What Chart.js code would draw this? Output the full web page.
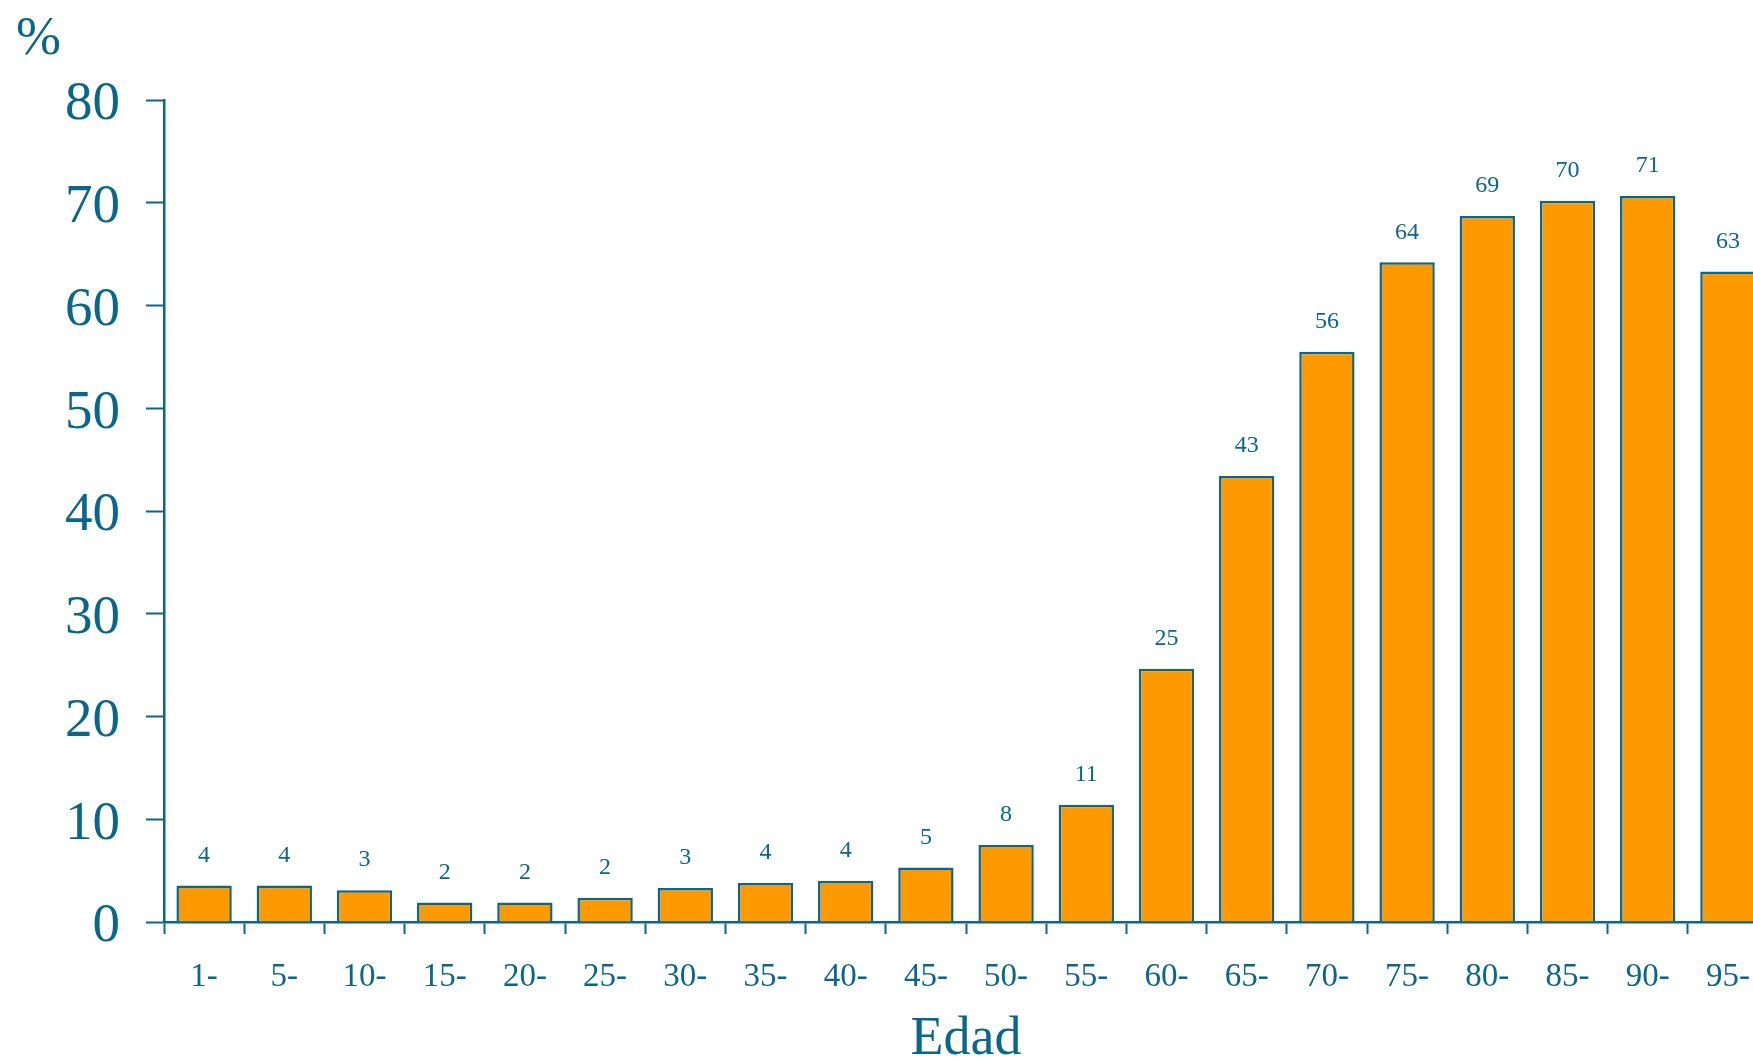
<!DOCTYPE html>
<html>
<head>
<meta charset="utf-8">
<script src="https://cdn.jsdelivr.net/npm/chart.js@4.4.1/dist/chart.umd.min.js"></script>
<style>
  html, body { margin: 0; padding: 0; overflow: hidden; background: #ffffff; }
  #wrap { position: relative; width: 1800px; height: 1060px; }
</style>
</head>
<body>
<div id="wrap"><canvas id="edadChart"></canvas></div>
<script>
// Grupos de edad (eje x)
const ageGroups = ['1-', '5-', '10-', '15-', '20-', '25-', '30-', '35-', '40-', '45-',
                   '50-', '55-', '60-', '65-', '70-', '75-', '80-', '85-', '90-', '95-'];

// Porcentaje por grupo de edad
const percentValues = [3.55, 3.55, 3.1, 1.9, 1.9, 2.35, 3.3, 3.8, 4.0, 5.3,
                       7.5, 11.4, 24.65, 43.4, 55.5, 64.2, 68.7, 70.2, 70.65, 63.3];

// Etiquetas encima de cada barra
const valueLabels = ['4', '4', '3', '2', '2', '2', '3', '4', '4', '5',
                     '8', '11', '25', '43', '56', '64', '69', '70', '71', '63'];

// Eje y
const yMin = 0;
const yMax = 80;
const yStep = 10;

const teal = '#0a6789';
const orange = '#ff9900';
const serif = '"Liberation Serif", "Times New Roman", serif';

// Plugin: valores encima de las barras y la unidad "%"
const barLabels = {
    id: 'barLabels',
    afterDatasetsDraw(chart) {
        const ctx = chart.ctx;
        const meta = chart.getDatasetMeta(0);
        ctx.save();
        ctx.fillStyle = teal;
        ctx.font = '24px ' + serif;
        ctx.textAlign = 'center';
        ctx.textBaseline = 'middle';
        meta.data.forEach((bar, i) => {
            ctx.fillText(valueLabels[i], bar.x, bar.y - 30);
        });

        // unidad del eje y
        ctx.font = '54px ' + serif;
        ctx.textAlign = 'left';
        ctx.textBaseline = 'alphabetic';
        ctx.fillText('%', 16, 54);
        ctx.restore();
    }
};

const chart = new Chart(document.getElementById('edadChart'), {
    type: 'bar',
    data: {
        labels: ageGroups,
        datasets: [{
            data: percentValues,
            backgroundColor: orange,
            borderColor: teal,
            borderWidth: 2.5,
            categoryPercentage: 1.0,
            barPercentage: 0.69
        }]
    },
    options: {
        responsive: true,
        maintainAspectRatio: false,
        animation: false,
        devicePixelRatio: 1,
        layout: {
            padding: { top: 100, right: 32, bottom: 0, left: 0 }
        },
        plugins: {
            legend: { display: false },
            tooltip: { enabled: false },
            title: { display: false }
        },
        scales: {
            x: {
                afterFit(scale) { scale.height = 138; },
                grid: {
                    offset: true,
                    drawOnChartArea: false,
                    tickLength: 12,
                    tickWidth: 2,
                    tickColor: teal
                },
                border: { color: teal, width: 2.5 },
                ticks: {
                    color: teal,
                    font: { family: serif, size: 33 },
                    padding: 24,
                    maxRotation: 0,
                    autoSkip: false
                },
                title: {
                    display: true,
                    text: 'Edad',
                    color: teal,
                    font: { family: serif, size: 54, lineHeight: 0.75 },
                    padding: 0
                }
            },
            y: {
                min: yMin,
                max: yMax,
                afterFit(scale) { scale.width = 164; },
                grid: {
                    drawOnChartArea: false,
                    tickLength: 18,
                    tickWidth: 2,
                    tickColor: teal
                },
                border: { color: teal, width: 2.5 },
                ticks: {
                    stepSize: yStep,
                    color: teal,
                    font: { family: serif, size: 55 },
                    padding: 26,
                    labelOffset: 5
                }
            }
        }
    },
    plugins: [barLabels]
});
</script>
</body>
</html>
